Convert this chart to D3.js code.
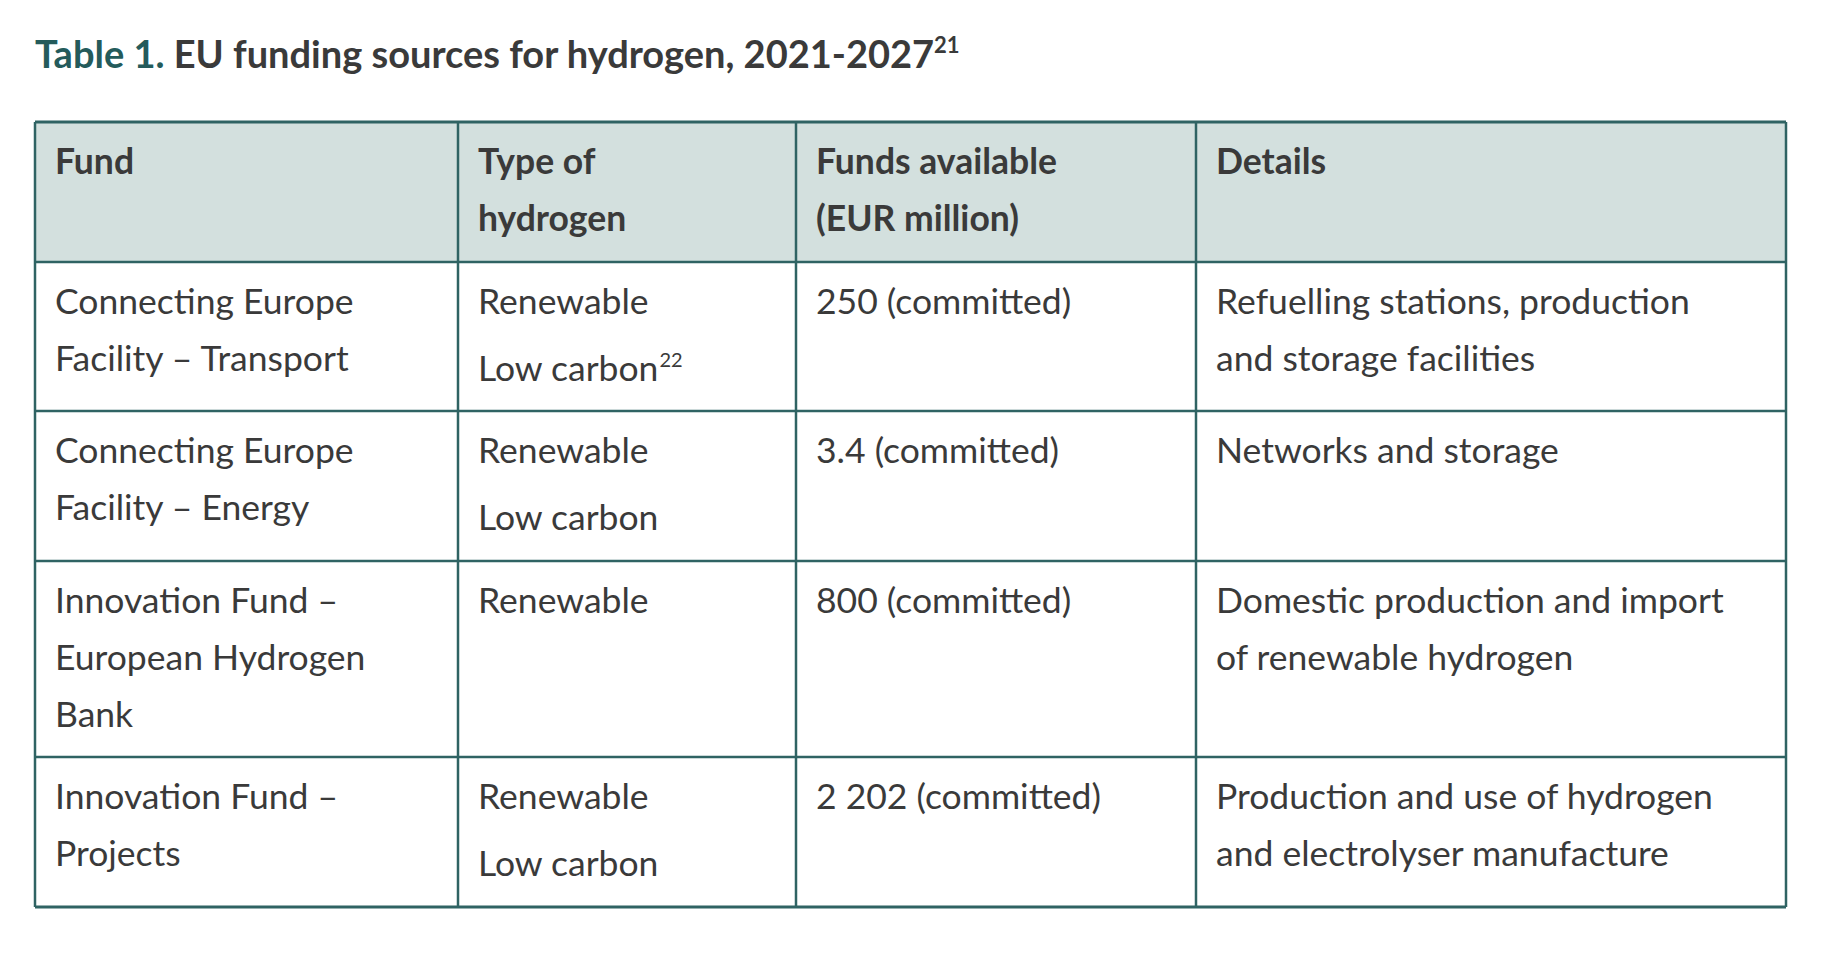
<!DOCTYPE html>
<html>
<head>
<meta charset="utf-8">
<script src="https://cdn.jsdelivr.net/npm/d3@7"></script>
<style>
  body { margin: 0; background: #fff; }
  text { font-family: Lato, "Noto Sans", sans-serif; }
</style>
</head>
<body>
<div id="chart"></div>
<script>
// table content
const headers = [["Fund"], ["Type of", "hydrogen"], ["Funds available", "(EUR million)"], ["Details"]];
const funds = [
  ["Connecting Europe", "Facility – Transport"],
  ["Connecting Europe", "Facility – Energy"],
  ["Innovation Fund –", "European Hydrogen", "Bank"],
  ["Innovation Fund –", "Projects"]
];
const hydrogenTypes = [
  ["Renewable", "Low carbon"],
  ["Renewable", "Low carbon"],
  ["Renewable"],
  ["Renewable", "Low carbon"]
];
const typeNotes = ["22", "", "", ""];
const amounts = ["250 (committed)", "3.4 (committed)", "800 (committed)", "2 202 (committed)"];
const details = [
  ["Refuelling stations, production", "and storage facilities"],
  ["Networks and storage"],
  ["Domestic production and import", "of renewable hydrogen"],
  ["Production and use of hydrogen", "and electrolyser manufacture"]
];

const W = 1830, H = 962;
const border = "#2f6363", textCol = "#3a3a3a";
const svg = d3.select("#chart").append("svg").attr("width", W).attr("height", H);

// column edges & row edges
const colX = [35, 458, 796, 1196, 1786];
const rowY = [122, 262, 411, 561, 757, 907];
const fs = 35.5;

// title
const title = svg.append("text").attr("x", 35).attr("y", 68)
  .attr("font-size", 38).attr("font-weight", 700);
title.append("tspan").attr("fill", "#245b5b").text("Table 1. ");
title.append("tspan").attr("fill", textCol).text("EU funding sources for hydrogen, 2021-2027");
title.append("tspan").attr("fill", textCol).attr("font-size", 22).attr("font-weight", 700).attr("dy", -15).text("21");

// header background
svg.append("rect").attr("x", colX[0]).attr("y", rowY[0])
  .attr("width", colX[4] - colX[0]).attr("height", rowY[1] - rowY[0]).attr("fill", "#d3e0de");

// header text
headers.forEach((lines, c) => {
  lines.forEach((l, i) => {
    svg.append("text").attr("x", colX[c] + 20).attr("y", rowY[0] + 52 + i * 57)
      .attr("font-size", fs).attr("font-weight", 700).attr("fill", textCol).text(l);
  });
});

// body rows
funds.forEach((f, r) => {
  const top = rowY[r + 1];
  const put = (c, lines, step) => lines.map((l, i) =>
    svg.append("text").attr("x", colX[c] + 20).attr("y", top + 52 + i * step)
      .attr("font-size", fs).attr("fill", textCol).text(l));
  put(0, f, 57);
  const typeNodes = put(1, hydrogenTypes[r], 67);
  put(2, [amounts[r]], 57);
  put(3, details[r], 57);
  if (typeNotes[r]) {
    const last = typeNodes[typeNodes.length - 1];
    const bb = last.node().getBBox();
    svg.append("text").attr("x", bb.x + bb.width + 1).attr("y", +last.attr("y") - 14)
      .attr("font-size", 20).attr("fill", textCol).text(typeNotes[r]);
  }
});

// grid lines
svg.selectAll("line.h").data(rowY).join("line")
  .attr("x1", colX[0]).attr("x2", colX[4]).attr("y1", d => d).attr("y2", d => d)
  .attr("stroke", border).attr("stroke-width", d => (d === rowY[0] || d === rowY[5]) ? 3 : 2.5);
svg.selectAll("line.v").data(colX).join("line")
  .attr("y1", rowY[0]).attr("y2", rowY[5]).attr("x1", d => d).attr("x2", d => d)
  .attr("stroke", border).attr("stroke-width", 2.5);
</script>
</body>
</html>
